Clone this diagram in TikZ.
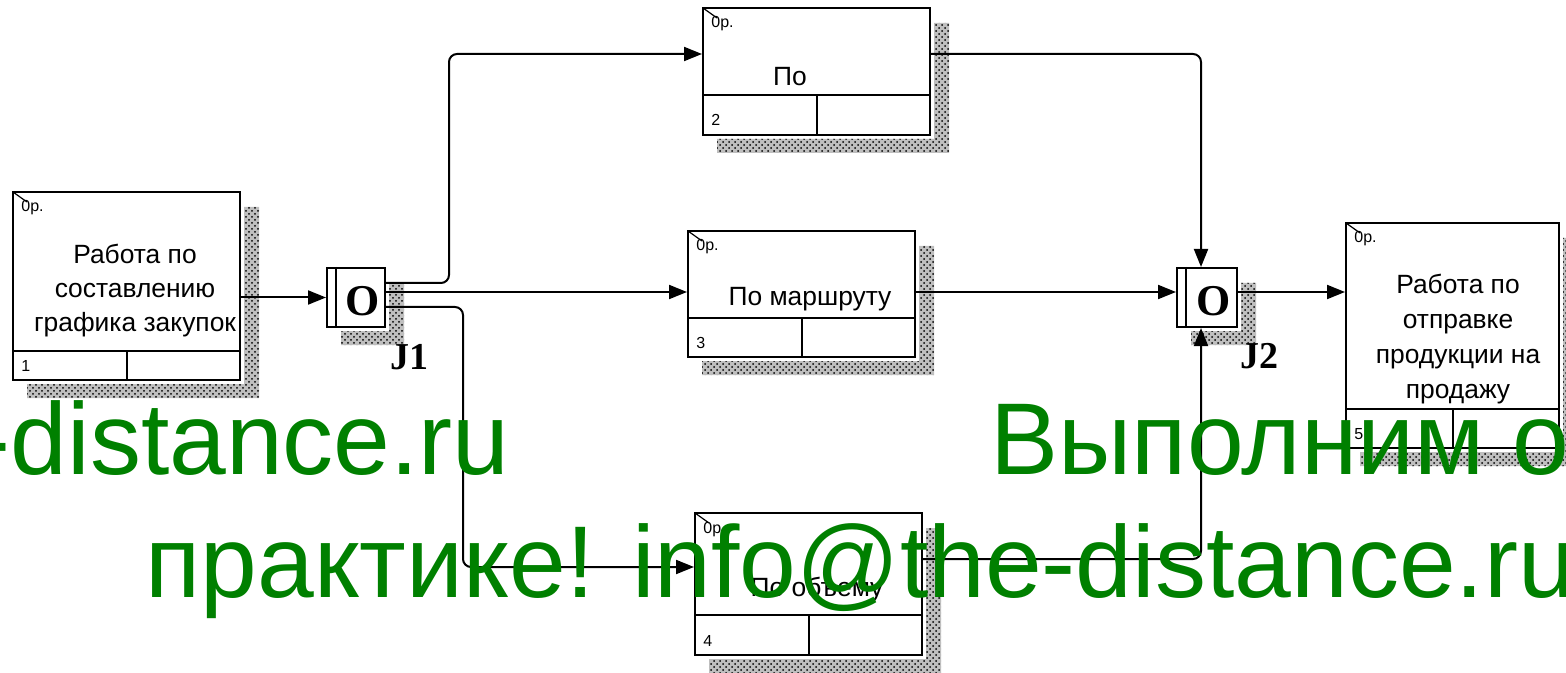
\documentclass[tikz,border=0pt]{standalone}
\usepackage{fontspec}
\setmainfont{Liberation Sans}
\newfontfamily\timesbf{Liberation Serif}
\usetikzlibrary{arrows.meta,patterns}
\definecolor{wmgreen}{RGB}{0,128,0}

\begin{document}
\begin{tikzpicture}[x=0.5pt,y=-0.5pt]
        \tikzstyle{every node}+=[inner sep=0pt]
        \tikzstyle{act}=[draw, line width=1pt, minimum width=113.5pt]
        \tikzstyle{jun}=[draw, line width=1pt, minimum width=29pt, minimum height=29.5pt]
        \tikzstyle{idefshadow}=[pattern=crosshatch dots, pattern color=black, preaction={fill=black!25}]
        \tikzstyle{arr}=[line width=1pt, rounded corners=4pt, -{Triangle[length=9pt,width=7pt]}]
        \tikzstyle{actlabel}=[anchor=base, align=center, font=\fontsize{13.2}{16.8}\selectfont]
        \tikzstyle{tag}=[anchor=base west, font=\fontsize{8}{9}\selectfont]
        \tikzstyle{jlabel}=[font=\timesbf\bfseries\fontsize{22}{24}\selectfont]
        \tikzstyle{jname}=[anchor=base west, font=\timesbf\bfseries\fontsize{19}{20}\selectfont]
        \tikzstyle{wm}=[anchor=base west, text=wmgreen, font=\fontsize{51}{60}\selectfont]
        \useasboundingbox (0,0) rectangle (1566,673);
        \clip (0,0) rectangle (1566,673);
        % activities
        \node[act, minimum height=94pt] (b1) at (126.5,286) {};
        \node[act, minimum height=63.5pt] (b2) at (816.5,71.5) {};
        \node[act, minimum height=63pt] (b3) at (801.5,294) {};
        \node[act, minimum height=71pt] (b4) at (808.5,584) {};
        \node[act, minimum width=106.5pt, minimum height=112.5pt] (b5) at (1452.5,335.5) {};
        % junctions
        \node[jun] (j1) at (356,297.5) {};
        \node[jun, minimum width=30pt] (j2) at (1207,297.5) {};
        \foreach \b/\s/\d/\n in {b1/30/115/1, b2/41/115/2, b3/40/115/3, b4/41/115/4, b5/40/108/5} {
            \fill[idefshadow] ([shift={(3,16)}]\b.north east) -- ([shift={(18,16)}]\b.north east)
                -- ([shift={(18,17)}]\b.south east) -- ([shift={(15,17)}]\b.south west)
                -- ([shift={(15,3)}]\b.south west) -- ([shift={(3,3)}]\b.south east) -- cycle;
            \draw[line width=1pt] ([shift={(0,-\s)}]\b.south west) -- ([shift={(0,-\s)}]\b.south east);
            \draw[line width=1pt] ([shift={(\d,-\s)}]\b.south west) -- ([shift={(\d,0)}]\b.south west);
            \draw[line width=0.6pt] ([shift={(1,1)}]\b.north west) -- ++(14,10);
            \node[tag] (\b-cost) at ([shift={(9,21)}]\b.north west) {0р.};
            \node[tag] (\b-num) at ([shift={(9,-10)}]\b.south west) {\n};
        }
        \foreach \j in {j1, j2} {
            \fill[idefshadow] ([shift={(3,16)}]\j.north east) -- ([shift={(18,16)}]\j.north east)
                -- ([shift={(18,17)}]\j.south east) -- ([shift={(15,17)}]\j.south west)
                -- ([shift={(15,3)}]\j.south west) -- ([shift={(3,3)}]\j.south east) -- cycle;
            \draw[line width=0.8pt] ([shift={(10,0)}]\j.north west) -- ([shift={(10,0)}]\j.south west);
            \node[jlabel] (\j-o) at ([shift={(7,4)}]\j.center) {O};
        }
        \node[jname] (j1-name) at (390,369) {J1};
        \node[jname] (j2-name) at (1240,368) {J2};
        % texts (base = last line)
        \node[actlabel] (t1) at (135,331) {Работа по\\составлению\\графика закупок};
        \node[actlabel] (t2) at (790,86) {По};
        \node[actlabel] (t3) at (810,306) {По маршруту};
        \node[actlabel] (t4) at (817,596) {По объему};
        \node[actlabel, font=\fontsize{13.2}{17.5}\selectfont] (t5) at (1458,398) {Работа по\\отправке\\продукции на\\продажу};
        % arrows
        \coordinate (j1a) at ([shift={(0,-14.5)}]j1.east);
        \coordinate (j1b) at ([shift={(0,-5.5)}]j1.east);
        \coordinate (j1c) at ([shift={(0,9.5)}]j1.east);
        \coordinate (k1) at (449,54);
        \coordinate (k2) at (463,567);
        \coordinate (k3) at (1201,54);
        \coordinate (k4) at (1201,559);
        \draw[arr] (b1.east |- j1.west) -- (j1.west);
        \draw[arr] (j1a) -| (k1) -- (k1 -| b2.west);
        \draw[arr] (j1b) -- (j1b -| b3.west);
        \draw[arr] (j1c) -| (k2) -- (k2 -| b4.west);
        \draw[arr] (k3 -| b2.east) -- (k3) -- (k3 |- j2.north);
        \draw[arr] (j1b -| b3.east) -- (j1b -| j2.west);
        \draw[arr] (k4 -| b4.east) -- (k4) -- (k4 |- j2.south);
        \draw[arr] (j1b -| j2.east) -- (j1b -| b5.west);
        % watermark
        \node[wm, anchor=base east] (wm1) at (510,474) {-distance.ru};
        \node[wm] (wm2) at (990,474) {Выполним о};
        \node[wm] (wm3) at (145,597) {практике! info@the-distance.ru};
    \end{tikzpicture}
\end{document}
